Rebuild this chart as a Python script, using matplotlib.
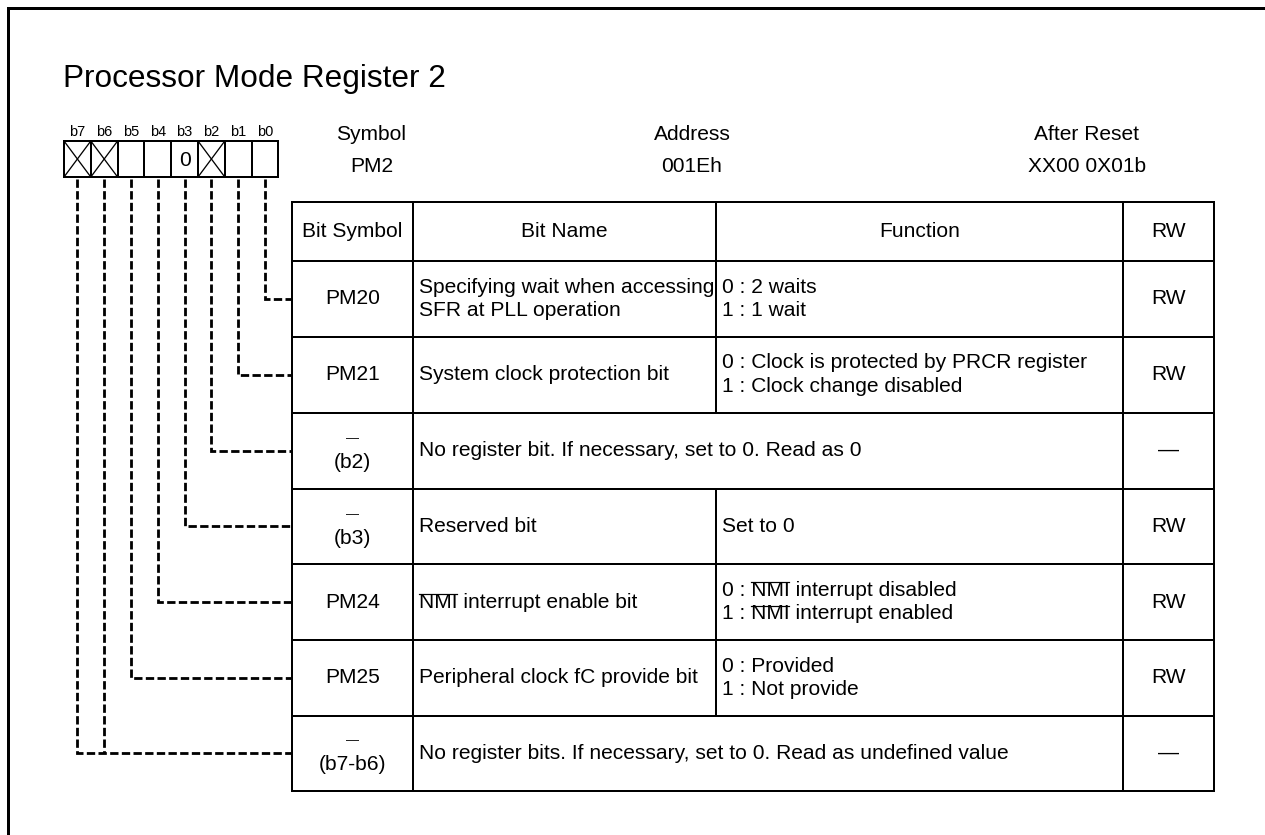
import matplotlib
matplotlib.use("Agg")
import matplotlib.pyplot as plt

plt.rcParams['font.family'] = ['Liberation Sans', 'DejaVu Sans']
plt.rcParams['lines.scale_dashes'] = False

# ---------------- data ----------------
title = "Processor Mode Register 2"
bit_labels = ["b7", "b6", "b5", "b4", "b3", "b2", "b1", "b0"]
bit_marks = ["X", "X", "", "", "0", "X", "", ""]   # X = no bit (crossed)

info_heads = ["Symbol", "Address", "After Reset"]
info_values = ["PM2", "001Eh", "XX00 0X01b"]

col_heads = ["Bit Symbol", "Bit Name", "Function", "RW"]
# "~word~" marks a word drawn with an overline (active-low signal)
row_symbols = [["PM20"], ["PM21"], ["\u2014", "(b2)"], ["\u2014", "(b3)"],
               ["PM24"], ["PM25"], ["\u2014", "(b7-b6)"]]
row_names = [["Specifying wait when accessing", "SFR at PLL operation"],
             ["System clock protection bit"],
             ["No register bit. If necessary, set to 0. Read as 0"],
             ["Reserved bit"],
             ["~NMI~ interrupt enable bit"],
             ["Peripheral clock fC provide bit"],
             ["No register bits. If necessary, set to 0. Read as undefined value"]]
row_functions = [["0 : 2 waits", "1 : 1 wait"],
                 ["0 : Clock is protected by PRCR register", "1 : Clock change disabled"],
                 None,
                 ["Set to 0"],
                 ["0 : ~NMI~ interrupt disabled", "1 : ~NMI~ interrupt enabled"],
                 ["0 : Provided", "1 : Not provide"],
                 None]
row_rw = ["RW", "RW", "\u2014", "RW", "RW", "RW", "\u2014"]
row_bits = [[0], [1], [2], [3], [4], [5], [7, 6]]

# ---------------- layout (pixels) ----------------
W, H = 1265, 835
fig = plt.figure(figsize=(W / 100, H / 100), dpi=100)
ax = fig.add_axes([0, 0, 1, 1])
ax.set_xlim(0, W)
ax.set_ylim(H, 0)
ax.axis("off")
renderer = fig.canvas.get_renderer()

PX = 0.72  # px -> pt
fs_title = 31.5 * PX
fs_text = 21 * PX
fs_bit = 14.5 * PX
fs_dash = 13 * PX

# outer frame (left and top only)
ax.plot([7.5, 7.5, W], [H, 7.5, 7.5], color="black", lw=3 * PX,
        solid_joinstyle="miter", solid_capstyle="butt")

ax.text(63, 87, title, fontsize=fs_title, ha="left", va="baseline")

# bit boxes
bx0, bw = 64, 26.8
by0, by1 = 141, 177
for i, (lab, mark) in enumerate(zip(bit_labels, bit_marks)):
    xl = bx0 + i * bw
    xr = xl + bw
    xc = (xl + xr) / 2
    ax.text(xc, 136.5, lab, fontsize=fs_bit, ha="center", va="baseline")
    ax.plot([xl, xr, xr, xl, xl], [by0, by0, by1, by1, by0], color="black",
            lw=2 * PX, solid_joinstyle="miter")
    if mark == "X":
        ax.plot([xl, xr], [by0, by1], color="black", lw=1.3 * PX)
        ax.plot([xl, xr], [by1, by0], color="black", lw=1.3 * PX)
    elif mark:
        ax.text(xc, (by0 + by1) / 2 + 1, mark, fontsize=fs_text, ha="center", va="center")

# info headers
info_x = [371.5, 692, 1087]
for x, h, v in zip(info_x, info_heads, info_values):
    ax.text(x, 140, h, fontsize=fs_text, ha="center", va="baseline")
    ax.text(x, 171.5, v, fontsize=fs_text, ha="center", va="baseline")

# table
cols = [292, 412.7, 715.7, 1123.3, 1214.3]
rows = [201.7, 261, 336.7, 412.7, 488.5, 564.3, 640, 715.5, 791]
tlw = 2 * PX

for y in rows:
    ax.plot([cols[0], cols[-1]], [y, y], color="black", lw=tlw, solid_capstyle="projecting")
for j, x in enumerate(cols):
    if j == 2:
        segs = [(rows[0], rows[3]), (rows[4], rows[7])]
        for a, b in segs:
            ax.plot([x, x], [a, b], color="black", lw=tlw, solid_capstyle="projecting")
    else:
        ax.plot([x, x], [rows[0], rows[-1]], color="black", lw=tlw, solid_capstyle="projecting")

for j, h in enumerate(col_heads):
    ax.text((cols[j] + cols[j + 1]) / 2, (rows[0] + rows[1]) / 2, h,
            fontsize=fs_text, ha="center", va="center")

pitch = 23.5


def text_width(s):
    t = ax.text(0, 0, s, fontsize=fs_text)
    w = t.get_window_extent(renderer).width
    t.remove()
    return w


def draw_line(x, y, s, ha):
    if "~" in s:
        pre, word, post = s.split("~")
        plain = pre + word + post
        t = ax.text(x, y, plain, fontsize=fs_text, ha=ha, va="center")
        bb = t.get_window_extent(renderer)
        x_end = x + text_width(pre + word)
        x_start = x_end - text_width(word)
        y_top = H - bb.y1 + 1.5
        ax.plot([x_start + 0.5, x_end - 0.5], [y_top, y_top], color="black", lw=1.2 * PX)
    else:
        fs = fs_dash if s == "\u2014" and ha == "center" and x < cols[1] else fs_text
        ax.text(x, y, s, fontsize=fs, ha=ha, va="center")


def draw_lines(x, yc, lines, ha):
    n = len(lines)
    for k, s in enumerate(lines):
        y = yc + (k - (n - 1) / 2) * pitch
        draw_line(x, y, s, ha)


pad = 6
dash_style = (0, (6.0, 2.4))
for r in range(len(row_symbols)):
    yc = (rows[r + 1] + rows[r + 2]) / 2
    draw_lines((cols[0] + cols[1]) / 2, yc, row_symbols[r], "center")
    draw_lines(cols[1] + pad, yc, row_names[r], "left")
    if row_functions[r] is not None:
        draw_lines(cols[2] + pad, yc, row_functions[r], "left")
    draw_lines((cols[3] + cols[4]) / 2, yc, [row_rw[r]], "center")

    # dashed connectors: first bit draws the full elbow, others only a vertical drop
    for k, n in enumerate(row_bits[r]):
        i = 7 - n
        xc = bx0 + (i + 0.5) * bw
        if k == 0:
            ax.plot([xc, xc, cols[0]], [by1 + 2, yc, yc], color="black", lw=2.8 * PX,
                    linestyle=dash_style, solid_joinstyle="miter", dash_joinstyle="miter")
        else:
            ax.plot([xc, xc], [by1 + 2, yc], color="black", lw=2.8 * PX,
                    linestyle=dash_style)

fig.savefig("out.png", dpi=100)
